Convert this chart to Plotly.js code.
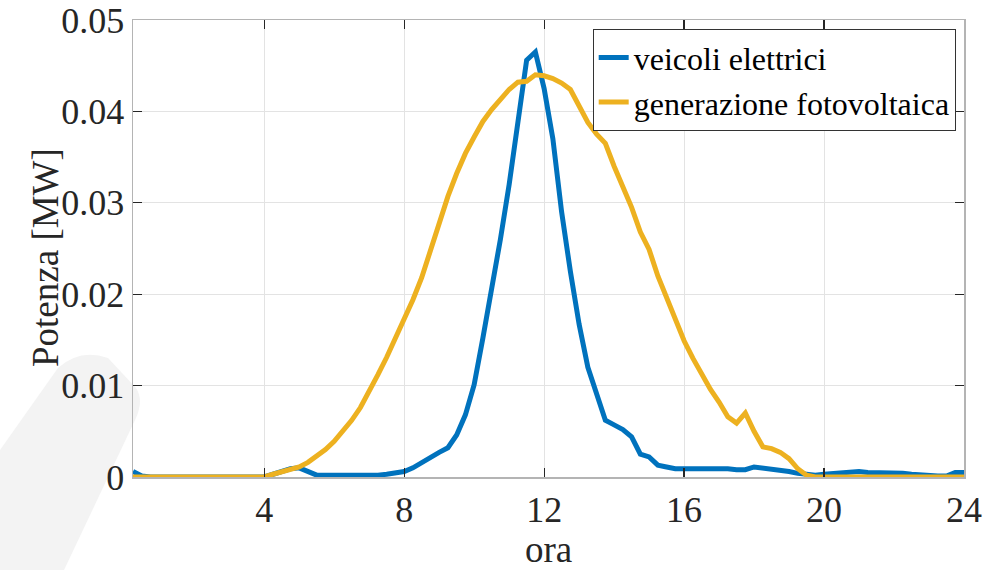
<!DOCTYPE html>
<html>
<head>
<meta charset="utf-8">
<script src="https://cdn.plot.ly/plotly-3.0.1.min.js"></script>
<style>html,body{margin:0;padding:0;background:#fff;}#chart{width:1002px;height:570px;}</style>
</head>
<body>
<div id="chart"></div>
<script>
// hours (15-minute steps from 0.25 to 24)
const ora = [];
for (let i = 1; i <= 96; i++) ora.push(i * 0.25);

// Electric vehicles [MW]
const veicoliElettrici = [
  0.0006, 0.0001, 0, 0, 0, 0, 0, 0, 0, 0, 0, 0, 0, 0, 0, 0,            // 0.25 - 4.0
  0.0003, 0.0006, 0.0009, 0.0010, 0.0006, 0.0002, 0.0002, 0.0002,      // 4.25 - 6.0
  0.0002, 0.0001, 0.0001, 0.0001, 0.0002, 0.0003, 0.0004, 0.0006,      // 6.25 - 8.0
  0.0010, 0.0016, 0.0022, 0.0027, 0.0032, 0.0046, 0.0068, 0.0101,      // 8.25 - 10.0
  0.0152, 0.0205, 0.0260, 0.0320, 0.0390, 0.0456, 0.0465, 0.0425,      // 10.25 - 12.0
  0.0370, 0.0290, 0.0225, 0.0167, 0.0120, 0.0090, 0.0062, 0.0057,      // 12.25 - 14.0
  0.0052, 0.0044, 0.0025, 0.0022, 0.0013, 0.0011, 0.0009, 0.0009,      // 14.25 - 16.0
  0.0009, 0.0010, 0.0009, 0.0010, 0.0009, 0.0008, 0.0008, 0.0011,      // 16.25 - 18.0
  0.0010, 0.0009, 0.0007, 0.0006, 0.0004, 0.0003, 0.0002, 0.0003,      // 18.25 - 20.0
  0.0004, 0.0005, 0.0005, 0.0006, 0.0005, 0.0005, 0.0004, 0.0004,      // 20.25 - 22.0
  0.0004, 0.0003, 0.0002, 0.0001, 0.0001, 0.0001, 0.0005, 0.0005       // 22.25 - 24.0
];

// Photovoltaic generation [MW]
const generazioneFotovoltaica = [
  0, 0, 0, 0, 0, 0, 0, 0, 0, 0, 0, 0, 0, 0, 0, 0,                      // 0.25 - 4.0
  0.0003, 0.0006, 0.0009, 0.0011, 0.0016, 0.0023, 0.0030, 0.0039,      // 4.25 - 6.0
  0.0050, 0.0062, 0.0076, 0.0093, 0.0112, 0.0131, 0.0151, 0.0172,      // 6.25 - 8.0
  0.0194, 0.0218, 0.0248, 0.0280, 0.0307, 0.0332, 0.0354, 0.0372,      // 8.25 - 10.0
  0.0389, 0.0402, 0.0414, 0.0424, 0.0432, 0.0433, 0.0440, 0.0439,      // 10.25 - 12.0
  0.0436, 0.0431, 0.0424, 0.0405, 0.0388, 0.0375, 0.0365, 0.0340,      // 12.25 - 14.0
  0.0318, 0.0295, 0.0268, 0.0249, 0.0220, 0.0196, 0.0172, 0.0149,      // 14.25 - 16.0
  0.0130, 0.0112, 0.0096, 0.0082, 0.0066, 0.0059, 0.0070, 0.0050,      // 16.25 - 18.0
  0.0033, 0.0031, 0.0027, 0.0020, 0.0009, 0.0002, 0, 0,                // 18.25 - 20.0
  0, 0, 0, 0, 0, 0, 0, 0,                                              // 20.25 - 22.0
  0, 0, 0, 0, 0, 0, 0, 0                                               // 22.25 - 24.0
];

const xTicks = [4, 8, 12, 16, 20, 24];
const yTicks = [0, 0.01, 0.02, 0.03, 0.04, 0.05];
const yTickLabels = ['0', '0.01', '0.02', '0.03', '0.04', '0.05'];
const xTitle = 'ora';
const yTitle = 'Potenza [MW]';

const FONT = 'Liberation Serif';

const traces = [
  {x: ora, y: veicoliElettrici, type: 'scatter', mode: 'lines', name: 'veicoli elettrici',
   line: {color: '#0072BD', width: 5}},
  {x: ora, y: generazioneFotovoltaica, type: 'scatter', mode: 'lines', name: 'generazione fotovoltaica',
   line: {color: '#EDB120', width: 5}}
];

const axisCommon = {
  showline: true, mirror: 'ticks', linecolor: '#b4b4b4', linewidth: 1.5,
  ticks: 'inside', ticklen: 9, tickcolor: '#262626', tickwidth: 1.2,
  showgrid: true, gridcolor: '#e3e3e3', gridwidth: 1, zeroline: false,
  tickfont: {family: FONT, size: 36, color: '#262626'}
};

// decorative light-gray smudge in the lower-left corner of the picture (pixel outline -> paper coords)
const M = {l: 133, r: 38, t: 20, b: 93, W: 1002, H: 570};
const pw = M.W - M.l - M.r, ph = M.H - M.t - M.b;
const px = v => ((v - M.l) / pw).toFixed(4);
const py = v => ((M.H - M.b - v) / ph).toFixed(4);
const smudge = `M ${px(0)},${py(450)} L ${px(58)},${py(368)} Q ${px(80)},${py(348)} ${px(108)},${py(358)} L ${px(136)},${py(388)} Q ${px(144)},${py(400)} ${px(136)},${py(418)} L ${px(64)},${py(570)} L ${px(0)},${py(570)} Z`;

const layout = {
  width: 1002, height: 570,
  margin: {l: M.l, r: M.r, t: M.t, b: M.b},
  paper_bgcolor: '#fff', plot_bgcolor: 'rgba(0,0,0,0)',
  font: {family: FONT, color: '#262626'},
  showlegend: true,
  shapes: [{type: 'path', xref: 'paper', yref: 'paper', path: smudge, layer: 'below',
            fillcolor: '#f3f3f3', line: {width: 0}}],
  annotations: [{
    text: yTitle, textangle: -90, xref: 'paper', yref: 'paper',
    x: Number(px(45)), y: Number(py(257)), xanchor: 'center', yanchor: 'middle',
    showarrow: false, font: {family: FONT, size: 37, color: '#262626'}
  }],
  xaxis: Object.assign({}, axisCommon, {
    range: [0.25, 24], tickvals: xTicks, ticktext: xTicks.map(String),
    title: {text: xTitle, font: {family: FONT, size: 37, color: '#262626'}, standoff: 2}
  }),
  yaxis: Object.assign({}, axisCommon, {
    range: [0, 0.05], tickvals: yTicks, ticktext: yTickLabels
  }),
  legend: {
    x: 0.99, y: 0.98, xanchor: 'right', yanchor: 'top',
    bgcolor: '#fff', bordercolor: '#333', borderwidth: 1,
    font: {family: FONT, size: 32, color: '#000'},
    tracegroupgap: 0, itemwidth: 30
  }
};

Plotly.newPlot('chart', traces, layout, {staticPlot: true, displayModeBar: false});
</script>
</body>
</html>
